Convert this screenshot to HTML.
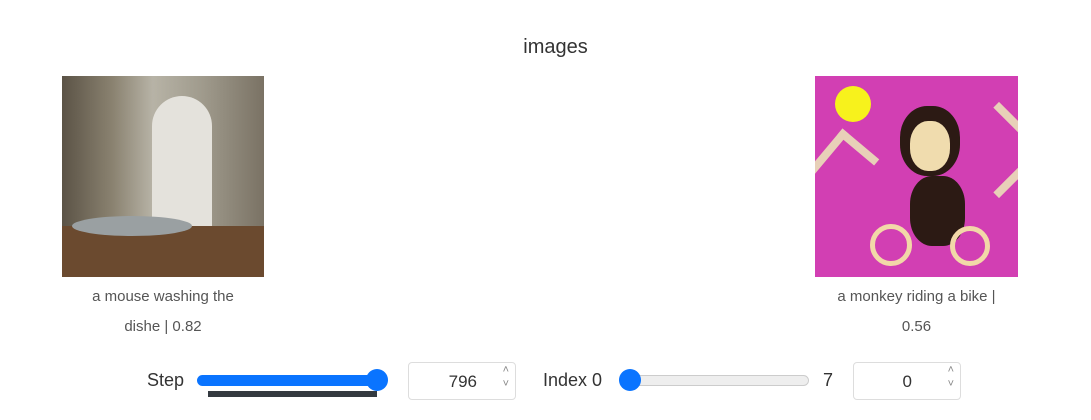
<!DOCTYPE html>
<html><head><meta charset="utf-8"><style>
body{margin:0;width:1091px;height:420px;background:#fff;font-family:"Liberation Sans","DejaVu Sans",sans-serif;position:relative;overflow:hidden;color:#333}
.a{position:absolute}
.cap{font-size:15px;color:#555;text-align:center;line-height:30px}
.inp{border:1px solid #ddd;border-radius:4px;height:36px;width:106px;font-size:17px;color:#333}
</style></head><body>
<div class="a" style="left:0;width:1111px;top:36px;text-align:center;font-size:20px;color:#333">images</div>

<div class="a" style="left:62px;top:76px;width:202px;height:201px;background:linear-gradient(90deg,#5b5346 0%,#8a8270 25%,#b7b3a6 45%,#9f9a8c 70%,#7a7264 100%);overflow:hidden">
 <div class="a" style="left:90px;top:20px;width:60px;height:150px;background:#e4e2dc;border-radius:30px 30px 10px 10px"></div>
 <div class="a" style="left:0;top:150px;width:202px;height:51px;background:#6b4a2f"></div>
 <div class="a" style="left:10px;top:140px;width:120px;height:20px;background:#9aa0a2;border-radius:50%"></div>
</div>
<div class="a cap" style="left:62px;top:282px;width:202px">a mouse washing the<br>dishe | 0.82</div>

<div class="a" style="left:815px;top:76px;width:203px;height:201px;background:#d23fb3;overflow:hidden">
 <div class="a" style="left:20px;top:10px;width:36px;height:36px;background:#f7f21c;border-radius:50%"></div>
 <div class="a" style="left:0;top:60px;width:40px;height:60px;border:8px solid #e8d0b8;border-right:none;border-bottom:none;transform:rotate(40deg)"></div>
 <div class="a" style="left:150px;top:40px;width:60px;height:60px;border:8px solid #e8d0b8;border-left:none;border-bottom:none;transform:rotate(45deg)"></div>
 <div class="a" style="left:85px;top:30px;width:60px;height:70px;background:#2c1a14;border-radius:45%"></div>
 <div class="a" style="left:95px;top:45px;width:40px;height:50px;background:#f0dcae;border-radius:45%"></div>
 <div class="a" style="left:95px;top:100px;width:55px;height:70px;background:#2c1a14;border-radius:40%"></div>
 <div class="a" style="left:55px;top:148px;width:42px;height:42px;border:5px solid #f2d8a8;border-radius:50%;box-sizing:border-box"></div>
 <div class="a" style="left:135px;top:150px;width:40px;height:40px;border:5px solid #f2d8a8;border-radius:50%;box-sizing:border-box"></div>
</div>
<div class="a cap" style="left:815px;top:282px;width:203px">a monkey riding a bike |<br>0.56</div>

<div class="a" style="left:147px;top:370px;font-size:18px">Step</div>
<div class="a" style="left:197px;top:375px;width:186px;height:11px;border-radius:6px;background:#0a74ff"></div>
<div class="a" style="left:366px;top:369px;width:22px;height:22px;border-radius:50%;background:#0a74ff"></div>
<div class="a" style="left:208px;top:391px;width:169px;height:6px;background:#343a40"></div>
<div class="a inp" style="left:408px;top:362px"><span class="a" style="right:38px;top:9px">796</span><span class="a" style="right:6px;top:0;font-size:11px;color:#888;line-height:14px">˄<br>˅</span></div>

<div class="a" style="left:543px;top:370px;font-size:18px">Index 0</div>
<div class="a" style="left:622px;top:375px;width:187px;height:11px;border-radius:6px;background:#eee;border:1px solid #ccc;box-sizing:border-box"></div>
<div class="a" style="left:619px;top:369px;width:22px;height:22px;border-radius:50%;background:#0a74ff"></div>
<div class="a" style="left:823px;top:370px;font-size:18px">7</div>
<div class="a inp" style="left:853px;top:362px"><span class="a" style="right:48px;top:9px">0</span><span class="a" style="right:6px;top:0;font-size:11px;color:#888;line-height:14px">˄<br>˅</span></div>
</body></html>
